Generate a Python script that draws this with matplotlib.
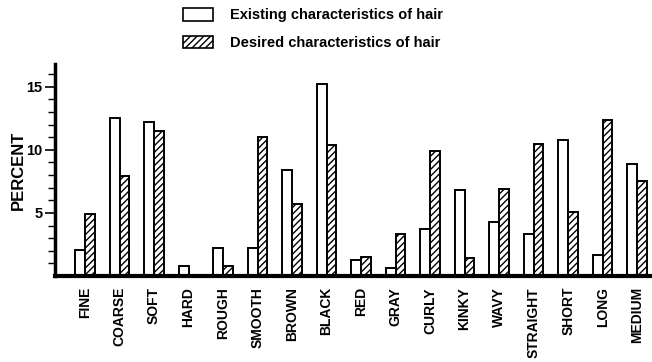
import matplotlib
matplotlib.use("Agg")
import matplotlib.pyplot as plt
import numpy as np
from matplotlib.patches import Patch

categories = ["FINE", "COARSE", "SOFT", "HARD", "ROUGH", "SMOOTH", "BROWN", "BLACK",
              "RED", "GRAY", "CURLY", "KINKY", "WAVY", "STRAIGHT", "SHORT", "LONG", "MEDIUM"]
existing = [2.1, 12.5, 12.2, 0.8, 2.2, 2.2, 8.4, 15.2, 1.3, 0.6, 3.7, 6.8, 4.3, 3.3, 10.8, 1.7, 8.9]
desired = [4.9, 7.9, 11.5, 0.0, 0.8, 11.0, 5.7, 10.4, 1.5, 3.3, 9.9, 1.4, 6.9, 10.5, 5.1, 12.4, 7.5]
yticks_major = [5, 10, 15]

plt.rcParams['font.family'] = ['Liberation Sans', 'DejaVu Sans']
plt.rcParams['hatch.linewidth'] = 1.0

fig = plt.figure(figsize=(6.52, 3.62), dpi=100)
ax = fig.add_axes([55/652, 1 - 276/362, 1 - 55/652, (276 - 64)/362])

x = np.arange(len(categories))
w = 0.28
ax.bar(x - w/2, existing, width=w, facecolor='white', edgecolor='black', linewidth=1.4, zorder=2)
ax.bar(x + w/2, desired, width=w, facecolor='white', edgecolor='black', linewidth=1.4,
       hatch='/////', zorder=2)

ax.set_xlim(-0.87, 16.43)
ax.set_ylim(0, 16.8)
for s in ['top', 'right']:
    ax.spines[s].set_visible(False)
ax.spines['left'].set_linewidth(2.5)
ax.spines['bottom'].set_linewidth(3)

ax.set_xticks(x)
ax.set_xticklabels(categories, rotation=90, fontsize=10, fontweight='bold')
ax.tick_params(axis='x', length=0, pad=8)
ax.set_yticks(yticks_major)
ax.set_yticklabels([str(v) for v in yticks_major], fontsize=10.5, fontweight='bold')
ax.set_yticks(np.arange(1, 17), minor=True)
ax.tick_params(axis='y', which='major', length=7, width=1.2, direction='out', pad=2)
ax.tick_params(axis='y', which='minor', length=5, width=1.0, direction='out')
ax.set_ylabel("PERCENT", fontsize=12, fontweight='bold', labelpad=0)

handles = [Patch(facecolor='white', edgecolor='black', linewidth=1.2),
           Patch(facecolor='white', edgecolor='black', linewidth=1.2, hatch='/////')]
fig.legend(handles, ["Existing characteristics of hair", "Desired characteristics of hair"],
           loc='upper left', bbox_to_anchor=(170/652, 1 + 5/362), frameon=False,
           prop={'weight': 'bold', 'size': 10.5}, handlelength=2.05, handleheight=0.95,
           labelspacing=0.9, handletextpad=1.15)

fig.savefig("out.png", dpi=100)
